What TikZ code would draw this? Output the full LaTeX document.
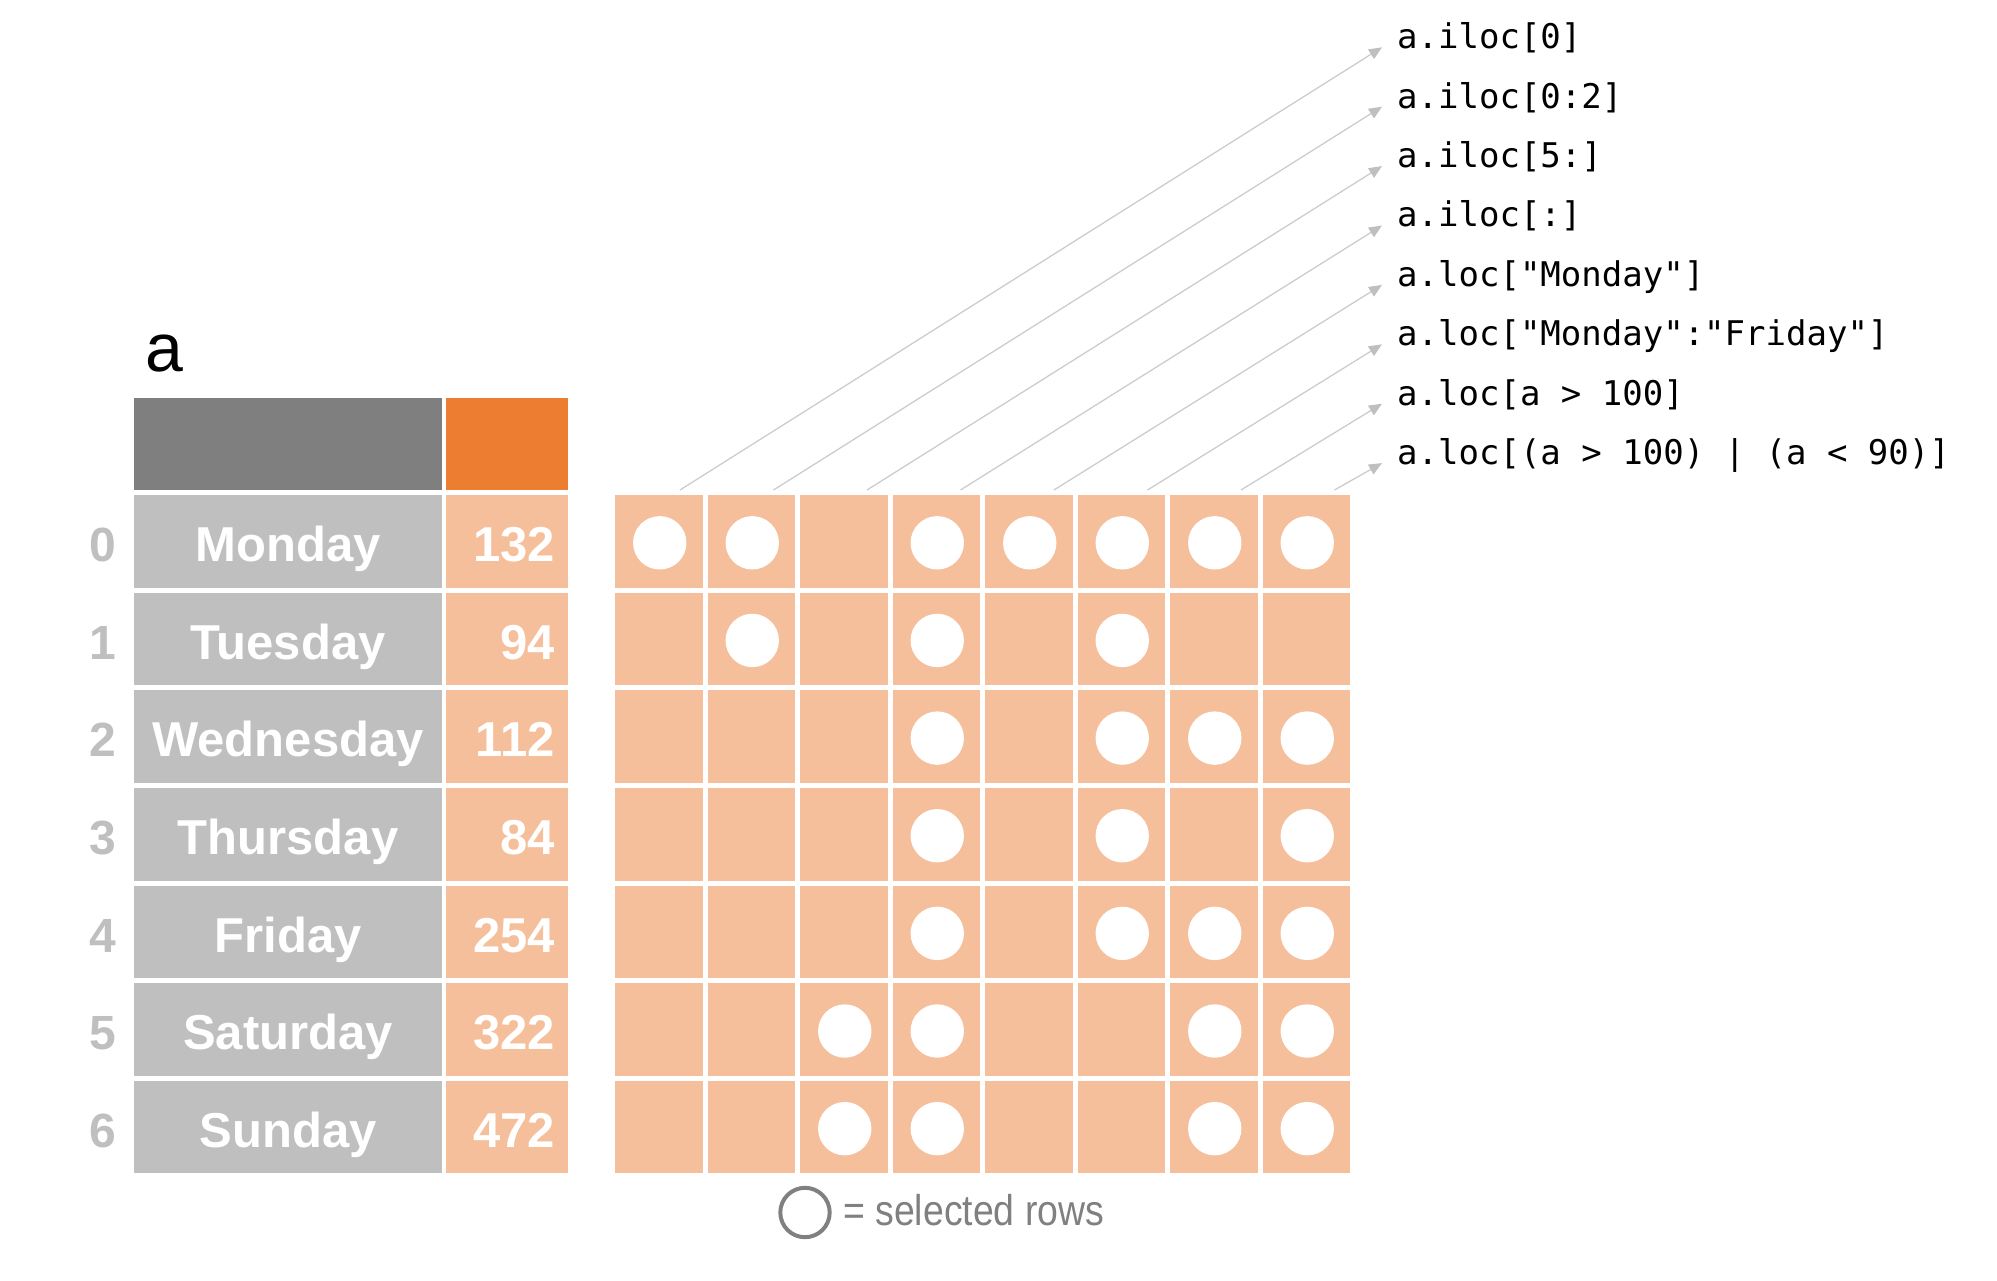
\documentclass[tikz,border=0pt]{standalone}
\usepackage{fontspec}
\usepackage{graphicx}
\setmainfont{Liberation Sans}
\newfontfamily\monofnt{DejaVu Sans Mono}
\usetikzlibrary{arrows.meta}
\definecolor{hdgray}{HTML}{7F7F7F}
\definecolor{hdorange}{HTML}{ED7D31}
\definecolor{cgray}{HTML}{BFBFBF}
\definecolor{corange}{HTML}{F6BF9B}
\definecolor{lnc}{HTML}{CCCCCC}
\definecolor{tipc}{HTML}{BFBFBF}
\definecolor{legc}{HTML}{808080}
\tikzset{
  cellbox/.style={rectangle, inner sep=0pt, outer sep=0pt, anchor=north west},
  daytxt/.style={inner sep=0pt, anchor=base, text=white, font=\fontsize{49}{58}\selectfont\bfseries},
  numtxt/.style={inner sep=0pt, anchor=base east, text=white, font=\fontsize{49}{58}\selectfont\bfseries},
  idxtxt/.style={inner sep=0pt, anchor=base, text=cgray, font=\fontsize{48}{58}\selectfont\bfseries},
  codetxt/.style={inner sep=0pt, anchor=base west, font=\fontsize{34}{40}\monofnt},
  selcirc/.style={circle, fill=white, inner sep=0pt, minimum size=53.4pt},
  conn/.style={draw=lnc, line width=1.3pt, -{Triangle[length=13pt,width=11pt,color=tipc]}},
}
\begin{document}
\begin{tikzpicture}[x=1pt,y=-1pt]
\useasboundingbox (0,0) rectangle (1997,1281);
% title
\node[inner sep=0pt, anchor=base west, font=\fontsize{68}{80}\selectfont] (title) at (145,371.7) {a};
% header
\node[cellbox, fill=hdgray, minimum width=307.7pt, minimum height=92.3pt] (hname) at (134,397.7) {};
\node[cellbox, fill=hdorange, minimum width=121.7pt, minimum height=92.3pt] (hval) at (446,397.7) {};
% rows
\foreach \j/\day/\val in {0/Monday/132,1/Tuesday/94,2/Wednesday/112,3/Thursday/84,4/Friday/254,5/Saturday/322,6/Sunday/472}{
  \pgfmathsetmacro{\ty}{495+97.64*\j}
  \node[cellbox, fill=cgray, minimum width=307.7pt, minimum height=92.64pt] (d\j) at (134,\ty) {};
  \node[cellbox, fill=corange, minimum width=121.7pt, minimum height=92.64pt] (v\j) at (446,\ty) {};
  \node[daytxt] (dt\j) at (288,\ty+66.5) {\day};
  \node[numtxt] (vt\j) at (555,\ty+66.5) {\val};
  \node[idxtxt] (ix\j) at (103,\ty+66.5) {\j};
  \foreach \i in {0,...,7}{
    \pgfmathsetmacro{\tx}{615+92.5*\i}
    \node[cellbox, fill=corange, minimum width=87.5pt, minimum height=92.64pt] (g\j-\i) at (\tx,\ty) {};
  }
}
% selected circles
\foreach \j/\cols in {0/{0,1,3,4,5,6,7},1/{1,3,5},2/{3,5,6,7},3/{3,5,7},4/{3,5,6,7},5/{2,3,6,7},6/{2,3,6,7}}{
  \foreach \i in \cols{
    \node[selcirc] (c\j-\i) at ([xshift=1pt,yshift=-1.5pt]g\j-\i.center) {};
  }
}
% labels and connectors
\foreach \i/\code in {0/{a.iloc[0]},1/{a.iloc[0:2]},2/{a.iloc[5:]},3/{a.iloc[:]},4/{a.loc["Monday"]},5/{a.loc["Monday":"Friday"]},6/{a.loc[a > 100]},7/{a.loc[(a > 100) | (a < 90)]}}{
  \pgfmathsetmacro{\ly}{48.8+59.4*\i}
  \pgfmathsetmacro{\sx}{680+93.5*\i}
  \node[codetxt] (L\i) at (1397,\ly) {\code};
  \coordinate (s\i) at (\sx,490);
  \draw[conn] (s\i) -- ([xshift=-15pt,yshift=1.5pt]L\i.base west);
}
% legend
\node[circle, draw=legc, line width=4pt, inner sep=0pt, minimum size=49.4pt] (legcirc) at (805,1212.5) {};
\node[inner sep=0pt, anchor=base west, text=legc, font=\fontsize{43}{50}\selectfont] (legtxt) at (843,1225) {\scalebox{0.87}[1]{= selected rows}};
\end{tikzpicture}
\end{document}
